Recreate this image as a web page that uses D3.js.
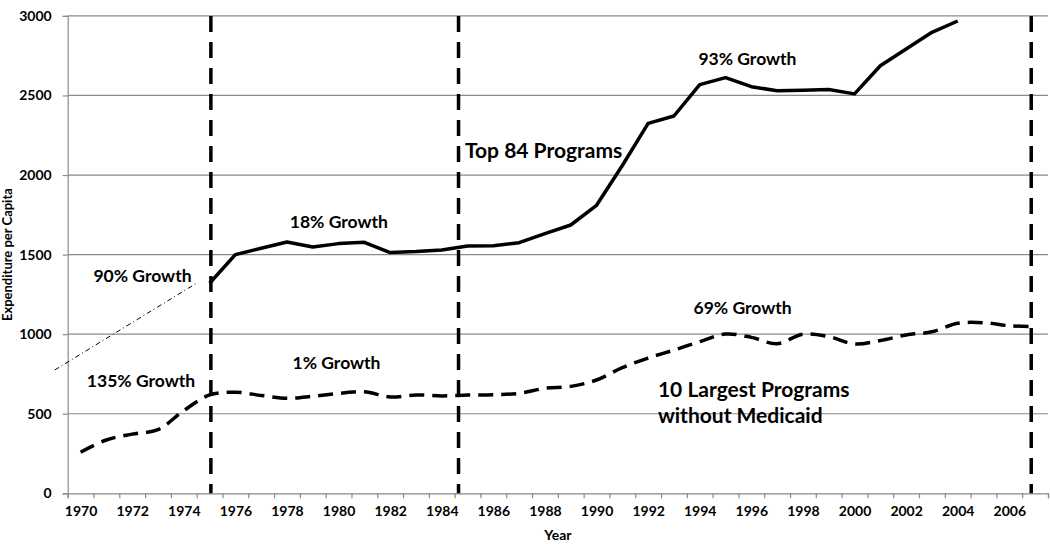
<!DOCTYPE html>
<html>
<head>
<meta charset="utf-8">
<script src="https://cdn.jsdelivr.net/npm/d3@7"></script>
<style>
  html, body { margin: 0; padding: 0; background: #fff; }
  svg { display: block; }
  text { font-family: Lato, "Open Sans", sans-serif; font-weight: bold; fill: #000; }
</style>
</head>
<body>
<svg id="chart" width="1050" height="544"></svg>
<script>
// ---- Data ----
const years = d3.range(1970, 2008);               // category axis 1970..2007
const xTickLabels = d3.range(1970, 2007, 2);      // labelled years
const yTicks = [0, 500, 1000, 1500, 2000, 2500, 3000];

const top84Years = d3.range(1975, 2005);
const top84Values = [1320, 1500, 1540, 1579, 1548, 1569, 1577, 1513, 1519, 1529,
                     1554, 1556, 1575, 1632, 1686, 1810, 2060, 2325, 2371, 2568,
                     2612, 2555, 2530, 2533, 2537, 2510, 2687, 2792, 2897, 2968];

const largest10Years = d3.range(1970, 2008);
const largest10Values = [258, 335, 372, 400, 520, 618, 635, 615, 597, 610,
                         628, 638, 605, 618, 612, 617, 620, 628, 660, 672,
                         712, 790, 850, 900, 953, 1001, 980, 940, 1000, 985,
                         938, 960, 995, 1015, 1068, 1072, 1053, 1048];

const phaseBreaks = [1975.05, 1984.65, 2006.85];
const trendYears = [1969.0, 1974.5];
const trendValues = [775, 1321];

const annotations = [
  { text: "90% Growth",  year: 1972.40, value: 1330, anchor: "middle", size: 17.5 },
  { text: "135% Growth", year: 1972.34, value: 670,  anchor: "middle", size: 17.5 },
  { text: "18% Growth",  year: 1980.01, value: 1665, anchor: "middle", size: 17.5 },
  { text: "1% Growth",   year: 1979.92, value: 779,  anchor: "middle", size: 17.5 },
  { text: "93% Growth",  year: 1995.85, value: 2691, anchor: "middle", size: 17.5 },
  { text: "69% Growth",  year: 1995.66, value: 1127, anchor: "middle", size: 17.5 },
  { text: "Top 84 Programs",     year: 1984.90, value: 2107, anchor: "start", size: 21 },
  { text: "10 Largest Programs", year: 1992.38, value: 607,  anchor: "start", size: 21 },
  { text: "without Medicaid",    year: 1992.38, value: 444,  anchor: "start", size: 21 }
];

// ---- Layout ----
const svg = d3.select("#chart");
const margin = { left: 67.7, right: 2, top: 15.9, bottom: 50.7 };
const W = 1050, H = 544;

const x = d3.scaleLinear()
  .domain([years[0] - 0.5, years[years.length - 1] + 0.5])
  .range([margin.left, W - margin.right]);
const y = d3.scaleLinear()
  .domain([0, 3000])
  .range([H - margin.bottom, margin.top]);

const gray = "#8a8a8a";

// gridlines
svg.append("g")
  .selectAll("line")
  .data(yTicks.filter(d => d > 0))
  .join("line")
  .attr("x1", x.range()[0]).attr("x2", x.range()[1])
  .attr("y1", d => y(d)).attr("y2", d => y(d))
  .attr("stroke", gray).attr("stroke-width", 1.2);

// y axis
const yAxis = svg.append("g")
  .attr("transform", `translate(${margin.left},0)`)
  .call(d3.axisLeft(y).tickValues(yTicks).tickSize(5).tickPadding(11).tickFormat(d3.format("d")));
yAxis.select(".domain").attr("stroke", gray).attr("stroke-width", 1.2);
yAxis.selectAll(".tick line").attr("stroke", gray).attr("stroke-width", 1.2);
yAxis.selectAll(".tick text").style("font-size", "14px").style("font-family", "Lato, sans-serif").style("font-weight", "bold").attr("fill", "#000");

// x axis: tick marks on category boundaries
const boundaries = d3.range(years[0] - 0.5, years[years.length - 1] + 1, 1);
const xAxis = svg.append("g")
  .attr("transform", `translate(0,${y(0)})`)
  .call(d3.axisBottom(x).tickValues(boundaries).tickSize(5).tickFormat(""));
xAxis.select(".domain").attr("stroke", gray).attr("stroke-width", 1.2);
xAxis.selectAll(".tick line").attr("stroke", gray).attr("stroke-width", 1.2);

// x axis labels at category centres
const xLabels = svg.append("g")
  .attr("transform", `translate(0,${y(0)})`)
  .call(d3.axisBottom(x).tickValues(xTickLabels).tickSize(0).tickPadding(13).tickFormat(d3.format("d")));
xLabels.select(".domain").remove();
xLabels.selectAll(".tick text").style("font-size", "14px").style("font-family", "Lato, sans-serif").style("font-weight", "bold").attr("fill", "#000");

// axis titles
svg.append("text")
  .attr("x", (x.range()[0] + x.range()[1]) / 2).attr("y", 540)
  .attr("text-anchor", "middle").style("font-size", "14px").text("Year");
svg.append("text")
  .attr("transform", `translate(12,${(y(0) + y(3000)) / 2}) rotate(-90)`)
  .attr("text-anchor", "middle").style("font-size", "13px").text("Expenditure per Capita");

// dash-dot trend line
svg.append("path")
  .datum(trendYears.map((yr, i) => [yr, trendValues[i]]))
  .attr("d", d3.line().x(d => x(d[0])).y(d => y(d[1])))
  .attr("fill", "none").attr("stroke", "#000").attr("stroke-width", 1)
  .attr("stroke-dasharray", "5,3,1,3");

// vertical phase lines
svg.append("g")
  .selectAll("line")
  .data(phaseBreaks)
  .join("line")
  .attr("x1", d => x(d)).attr("x2", d => x(d))
  .attr("y1", y(3000)).attr("y2", y(0))
  .attr("stroke", "#000").attr("stroke-width", 3.5)
  .attr("stroke-dasharray", "16,10");

// Top 84 series (solid)
svg.append("path")
  .datum(top84Years.map((yr, i) => [yr, top84Values[i]]))
  .attr("d", d3.line().x(d => x(d[0])).y(d => y(d[1])))
  .attr("fill", "none").attr("stroke", "#000").attr("stroke-width", 3.5)
  .attr("stroke-linejoin", "round");

// 10 largest series (dashed, smoothed)
svg.append("path")
  .datum(largest10Years.map((yr, i) => [yr, largest10Values[i]]))
  .attr("d", d3.line().curve(d3.curveCatmullRom.alpha(0.5)).x(d => x(d[0])).y(d => y(d[1])))
  .attr("fill", "none").attr("stroke", "#000").attr("stroke-width", 3.5)
  .attr("stroke-dasharray", "15,8");

// annotations
svg.append("g")
  .selectAll("text")
  .data(annotations)
  .join("text")
  .attr("x", d => x(d.year)).attr("y", d => y(d.value))
  .attr("text-anchor", d => d.anchor)
  .style("font-size", d => d.size + "px")
  .text(d => d.text);
</script>
</body>
</html>
